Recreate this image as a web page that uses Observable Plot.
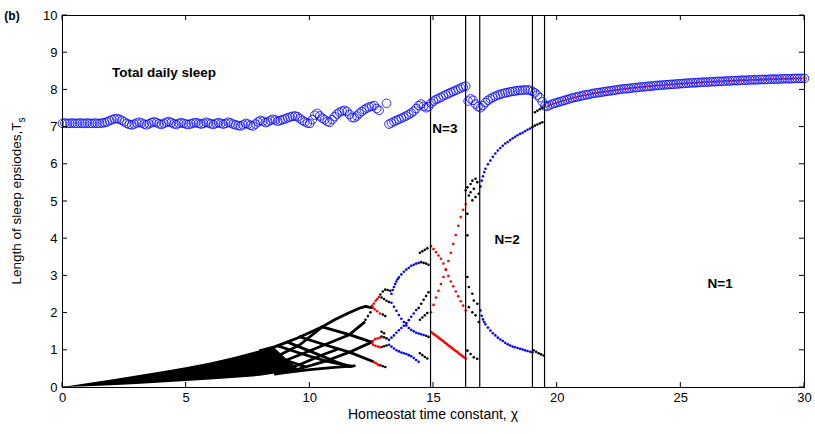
<!DOCTYPE html>
<html><head><meta charset="utf-8">
<script src="https://cdn.jsdelivr.net/npm/d3@7"></script>
<script src="https://cdn.jsdelivr.net/npm/@observablehq/plot@0.6"></script>
<style>body{margin:0;background:#fff}svg{font-family:"Liberation Sans",Arial,sans-serif}</style>
</head><body><div id="chart"></div>
<script>
// ---- axes ----
const xTicks = [0, 5, 10, 15, 20, 25, 30];
const yTicks = [0, 1, 2, 3, 4, 5, 6, 7, 8, 9, 10];
const regimeBounds = [14.88, 16.3, 16.87, 19.0, 19.49];

// ---- total daily sleep (blue circles), sampled every 0.1 in chi ----
const circleStep = 0.1;
const totalSleep1Start = 0;
const totalSleep1 = [
 7.10,7.11,7.10,7.10,7.11,7.10,7.10,7.11,7.10,7.10,
 7.11,7.10,7.10,7.11,7.10,7.10,7.11,7.12,7.14,7.17,
 7.20,7.22,7.23,7.21,7.18,7.14,7.10,7.07,7.06,7.08,
 7.11,7.13,7.11,7.08,7.06,7.09,7.12,7.14,7.12,7.09,
 7.07,7.10,7.13,7.15,7.12,7.09,7.07,7.10,7.12,7.10,
 7.08,7.07,7.09,7.11,7.12,7.10,7.08,7.10,7.13,7.11,
 7.09,7.07,7.10,7.12,7.10,7.08,7.10,7.13,7.11,7.08,
 7.06,7.04,7.03,7.06,7.10,7.08,7.05,7.03,7.08,7.14,
 7.18,7.16,7.12,7.14,7.18,7.21,7.19,7.16,7.18,7.20,
 7.22,7.25,7.27,7.29,7.30,7.28,7.23,7.18,7.14,7.11,
 7.10,7.20,7.32,7.37,7.30,7.24,7.20,7.15,7.13,7.20,
 7.28,7.35,7.40,7.43,7.45,7.42,7.34,7.26,7.25,7.30,
 7.37,7.42,7.47,7.51,7.54,7.56,7.58,7.50,7.45];
const totalSleep1bStart = 13.1;
const totalSleep1b = [7.64];
const totalSleep2Start = 13.2;
const totalSleep2 = [
 7.08,7.11,7.15,7.18,7.21,7.24,7.27,7.30,7.34,7.38,
 7.43,7.50,7.58,7.62,7.56,7.52,7.55,7.64,7.70,7.74,
 7.77,7.80,7.84,7.87,7.90,7.93,7.96,7.99,8.02,8.05,
 8.08,8.10];
const totalSleep3Start = 16.4;
const totalSleep3 = [
 7.70,7.76,7.72,7.62,7.55,7.52,7.58,7.66,7.72,7.76,
 7.80,7.83,7.86,7.88,7.90,7.92,7.93,7.95,7.96,7.97,
 7.98,7.99,7.99,8.00,8.00,7.99,7.96,7.92,7.86,7.79,
 7.68,7.57];
const totalSleep4Start = 19.6;
const totalSleep4 = [
 7.56,7.59,7.62,7.64,7.66,7.68,7.70,7.72,7.74,7.76,
 7.78,7.80,7.81,7.83,7.84,7.86,7.87,7.88,7.90,7.91,
 7.92,7.93,7.94,7.95,7.96,7.97,7.98,7.99,8.00,8.01,
 8.02,8.03,8.03,8.04,8.05,8.06,8.06,8.07,8.08,8.08,
 8.09,8.10,8.10,8.11,8.12,8.12,8.13,8.13,8.14,8.14,
 8.15,8.15,8.16,8.16,8.17,8.17,8.18,8.18,8.19,8.19,
 8.19,8.20,8.20,8.21,8.21,8.21,8.22,8.22,8.22,8.23,
 8.23,8.23,8.24,8.24,8.24,8.25,8.25,8.25,8.26,8.26,
 8.26,8.26,8.27,8.27,8.27,8.27,8.28,8.28,8.28,8.28,
 8.29,8.29,8.29,8.29,8.29,8.30,8.30,8.30,8.30,8.30,
 8.31,8.31,8.31,8.31,8.31];

// ---- many-episode fan (dense black region) ----
const fanX  = [0, 1, 2, 3, 4, 5, 6, 7, 8, 8.6, 9.0, 9.5];
const fanLo = [0, 0.02, 0.05, 0.08, 0.12, 0.16, 0.20, 0.25, 0.30, 0.36, 0.40, 0.45];
const fanHi = [0, 0.10, 0.20, 0.31, 0.42, 0.53, 0.66, 0.81, 0.99, 1.05, 0.80, 0.52];

// ---- interwoven branches (black) ----
const branchArc = [[8.0,0.99],[8.6,1.1],[9.0,1.2],[9.5,1.33],[10.0,1.48],[10.5,1.63],[11.0,1.82],[11.5,1.98],[12.0,2.13],[12.25,2.18],[12.5,2.15]];
const branchA = [[10.5,1.63],[11.6,1.42],[12.5,1.22]];
const branchB = [[9.6,1.36],[10.6,1.15],[11.6,0.95],[12.55,0.7]];
const branchC = [[8.7,1.12],[9.7,0.9],[10.7,0.7],[11.7,0.57]];
const branchD = [[8.0,0.99],[8.8,0.78],[9.8,0.56]];
const branchE = [[8.3,0.5],[8.6,0.62],[9.6,0.88],[10.6,1.15],[11.6,1.42],[12.2,1.75]];
const branchF = [[9.3,0.45],[10.6,0.7],[11.6,0.95],[12.5,1.22]];
const branchG = [[8.0,0.6],[9.0,0.95],[9.6,1.15],[10.5,1.63]];
const branchH = [[9.1,1.22],[10.1,0.95],[11.1,0.68],[11.6,0.56]];
const branchI = [[8.6,0.4],[9.6,0.62],[10.6,0.9],[11.1,1.02]];
const branchBottom = [[8.6,0.36],[9.0,0.4],[10.0,0.48],[11.0,0.54],[11.8,0.58]];
const branches = [branchArc, branchA, branchB, branchC, branchD, branchE, branchF, branchG, branchH, branchI, branchBottom];

// ---- episode lengths, black points ----
const blackPts = [
 [12.25,1.82],[12.35,1.92],[12.45,2.02],
 [12.85,2.5],[12.95,2.58],[13.05,2.63],[13.15,2.62],[13.25,2.6],
 [12.9,2.42],[13.0,2.38],[13.1,2.33],[13.2,2.3],
 [12.95,1.96],[13.05,1.92],
 [12.9,1.37],[13.0,1.35],[13.1,1.32],
 [12.9,1.09],[13.0,1.11],[13.1,1.13],
 [12.9,1.5],[13.0,1.46],
 [12.85,0.6],[12.95,0.57],[13.05,0.55],
 [14.45,3.62],[14.55,3.66],[14.65,3.7],[14.75,3.74],
 [14.5,3.37],[14.6,3.35],[14.7,3.33],[14.8,3.3],
 [14.4,2.14],[14.5,2.25],[14.6,2.36],[14.7,2.46],[14.8,2.56],
 [14.45,1.82],[14.55,1.88],[14.65,1.94],[14.75,2.0],
 [14.7,1.39],[14.8,1.36],
 [14.45,0.92],[14.55,0.87],[14.65,0.82],[14.75,0.78],
 [16.3,5.3],[16.37,5.38],[16.5,5.47],[16.57,5.56],[16.7,5.61],
 [16.43,5.16],[16.5,5.25],[16.63,5.34],[16.77,5.52],
 [16.57,5.03],[16.7,5.12],[16.83,5.21],
 [16.37,4.09],[16.37,4.67],
 [16.37,2.97],[16.43,2.7],[16.57,2.52],[16.63,2.34],[16.77,2.25],
 [16.43,2.16],[16.57,2.02],[16.7,1.94],[16.83,1.76],
 [16.37,0.99],[16.5,0.9],[16.63,0.81],[16.77,0.77],
 [19.05,1.0],[19.15,0.96],[19.25,0.92],[19.35,0.89],[19.45,0.86],
 [19.0,7.0],[19.1,7.04],[19.2,7.07],[19.3,7.1],[19.4,7.13],
 [19.1,7.4],[19.2,7.44],[19.3,7.48],[19.4,7.52]
];

// ---- episode lengths, red points ----
const redPts = [
 [12.79,2.43],[12.72,2.38],[12.66,2.33],[12.59,2.26],[12.52,2.2],[12.55,2.15],[12.62,2.1],[12.72,2.05],[12.83,1.99],
 [12.84,1.34],[12.74,1.32],[12.64,1.3],[12.55,1.25],[12.52,1.2],[12.56,1.15],[12.65,1.12],[12.75,1.1],[12.84,1.08],
 [12.6,0.68],[12.67,0.65],[12.74,0.62],[12.8,0.6],
 [14.9,3.8],[15.0,3.72],[15.1,3.64],[15.2,3.55],[15.3,3.46],[15.4,3.33],[15.5,3.16],[15.6,3.0],[15.7,2.85],[15.8,2.72],[15.9,2.58],[16.0,2.45],[16.1,2.32],[16.2,2.2],[16.3,2.07],
 [14.9,2.02],[15.0,2.22],[15.1,2.42],[15.2,2.6],[15.3,2.78],[15.4,2.97],[15.5,3.18],[15.6,3.4],[15.7,3.62],[15.8,3.86],[15.9,4.1],[16.0,4.35],[16.1,4.58],[16.2,4.78],[16.3,4.93],
 [14.9,1.49],[14.95,1.47],[15.0,1.44],[15.05,1.42],[15.1,1.39],[15.15,1.37],[15.2,1.34],[15.25,1.32],[15.3,1.29],[15.35,1.27],
 [15.4,1.24],[15.45,1.21],[15.5,1.19],[15.55,1.16],[15.6,1.13],[15.65,1.11],[15.7,1.08],[15.75,1.06],[15.8,1.03],[15.85,1.01],
 [15.9,0.98],[15.95,0.96],[16.0,0.93],[16.05,0.9],[16.1,0.88],[16.15,0.85],[16.2,0.83],[16.25,0.8],[16.3,0.78]
];

// ---- episode lengths, blue points ----
const bluePts = [
 [13.3,2.52],[13.35,2.62],[13.4,2.7],[13.45,2.78],[13.5,2.85],[13.55,2.91],[13.6,2.96],[13.7,3.04],[13.8,3.11],[13.9,3.17],[14.0,3.22],[14.1,3.27],[14.2,3.3],[14.3,3.33],[14.4,3.35],
 [13.3,2.28],[13.4,2.17],[13.5,2.06],[13.6,1.95],[13.7,1.85],[13.8,1.76],[13.9,1.67],[14.0,1.6],[14.1,1.55],[14.2,1.51],[14.3,1.47],[14.4,1.45],[14.5,1.43],[14.6,1.41],
 [13.2,1.28],[13.3,1.34],[13.4,1.4],[13.5,1.47],[13.6,1.54],[13.7,1.6],[13.8,1.66],[13.9,1.73],[14.0,1.81],[14.1,1.9],[14.2,1.99],[14.3,2.08],
 [13.2,1.15],[13.3,1.1],[13.4,1.05],[13.5,1.0],[13.6,0.97],[13.7,0.94],[13.8,0.92],[13.9,0.9],[14.0,0.87],[14.1,0.84],[14.2,0.79],[14.3,0.74],[14.4,0.69],
 [16.9,5.4],[16.95,5.56],[17.0,5.68],[17.05,5.79],[17.1,5.88],[17.2,6.0],[17.3,6.1],[17.4,6.2],[17.5,6.29],[17.6,6.37],[17.7,6.44],[17.8,6.5],
 [17.9,6.56],[18.0,6.6],[18.1,6.65],[18.2,6.7],[18.3,6.74],[18.4,6.78],[18.5,6.82],[18.6,6.85],[18.7,6.89],[18.8,6.93],[18.9,6.96],[19.0,7.0],
 [16.9,2.07],[16.95,1.93],[17.0,1.83],[17.05,1.76],[17.1,1.7],[17.2,1.61],[17.3,1.53],[17.4,1.46],[17.5,1.4],[17.6,1.34],[17.7,1.29],[17.8,1.25],
 [17.9,1.2],[18.0,1.16],[18.1,1.13],[18.2,1.1],[18.3,1.08],[18.4,1.06],[18.5,1.04],[18.6,1.02],[18.7,1.0],[18.8,0.98],[18.9,0.96],[19.0,0.95]
];

// ---- annotations ----
const notes = [
 {x: 2.0, y: 8.47, text: "Total daily sleep"},
 {x: 14.95, y: 6.95, text: "N=3"},
 {x: 17.47, y: 3.97, text: "N=2"},
 {x: 26.08, y: 2.8, text: "N=1"}
];

// ---- build tables ----
function seg(start, ys) { return ys.map((y, i) => ({x: +(start + i * circleStep).toFixed(2), y})); }
const circles = [
 ...seg(totalSleep1Start, totalSleep1), ...seg(totalSleep1bStart, totalSleep1b),
 ...seg(totalSleep2Start, totalSleep2), ...seg(totalSleep3Start, totalSleep3),
 ...seg(totalSleep4Start, totalSleep4)];
const singleEpisode = seg(totalSleep4Start, totalSleep4);
const fan = fanX.map((x, i) => ({x, lo: fanLo[i], hi: fanHi[i]}));

const W = 815, H = 434, mL = 62, mR = 11, mT = 15, mB = 47;
const plot = Plot.plot({
 width: W, height: H, marginLeft: mL, marginRight: mR, marginTop: mT, marginBottom: mB,
 x: {domain: [0, 30]}, y: {domain: [0, 10]},
 style: {fontFamily: '"Liberation Sans", Arial, sans-serif', fontSize: "13px", background: "#fff", color: "#000"},
 marks: [
  Plot.areaY(fan, {x: "x", y1: "lo", y2: "hi", fill: "#000"}),
  ...branches.map(b => Plot.line(b, {x: d => d[0], y: d => d[1], stroke: "#000", strokeWidth: 2.8})),
  Plot.dot(blackPts, {x: d => d[0], y: d => d[1], r: 1.3, fill: "#000"}),
  Plot.dot(redPts, {x: d => d[0], y: d => d[1], r: 1.3, fill: "#ff0000"}),
  Plot.dot(bluePts, {x: d => d[0], y: d => d[1], r: 1.3, fill: "#0000ff"}),
  Plot.ruleX(regimeBounds, {stroke: "#000", strokeWidth: 1.2}),
  Plot.dot(singleEpisode, {x: "x", y: "y", r: 0.9, fill: "#ff0000"}),
  Plot.dot(circles, {x: "x", y: "y", r: 4.3, stroke: "#0000ff", strokeWidth: 0.8, fill: "none"}),
  Plot.text(notes, {x: "x", y: "y", text: "text", textAnchor: "start", fontWeight: "bold", fontSize: 13.5, fill: "#000"}),
  Plot.frame({stroke: "#000"}),
  Plot.axisX(xTicks, {tickSize: 0, tickPadding: 5, label: null, fontSize: 13}),
  Plot.axisY(yTicks, {tickSize: 0, tickPadding: 5, label: null, fontSize: 13})
 ]
});

const sx = plot.scale("x"), sy = plot.scale("y");
const svg = d3.select(plot);
const y0 = sy.apply(0), y1 = sy.apply(10), x0 = sx.apply(0), x1 = sx.apply(30);
const tg = svg.append("g").attr("stroke", "#000").attr("stroke-width", 1);
xTicks.forEach(v => {
 const p = sx.apply(v);
 tg.append("line").attr("x1", p).attr("x2", p).attr("y1", y0).attr("y2", y0 - 5);
 tg.append("line").attr("x1", p).attr("x2", p).attr("y1", y1).attr("y2", y1 + 5);
});
yTicks.forEach(v => {
 const p = sy.apply(v);
 tg.append("line").attr("x1", x0).attr("x2", x0 + 5).attr("y1", p).attr("y2", p);
 tg.append("line").attr("x1", x1).attr("x2", x1 - 5).attr("y1", p).attr("y2", p);
});
svg.append("text").attr("x", (x0 + x1) / 2).attr("y", 419).attr("text-anchor", "middle")
 .attr("font-size", 14).attr("fill", "#000").text("Homeostat time constant, \u03c7");
const yl = svg.append("text").attr("transform", `translate(21,${(y0 + y1) / 2}) rotate(-90)`)
 .attr("text-anchor", "middle").attr("font-size", 13.5).attr("fill", "#000");
yl.append("tspan").text("Length of sleep epsiodes,T");
yl.append("tspan").attr("font-size", 10).attr("dy", 4).text("s");
svg.append("text").attr("x", 12).attr("y", 20).attr("font-size", 12).attr("font-weight", "bold")
 .attr("fill", "#000").text("(b)");

document.getElementById("chart").appendChild(plot);
</script></body></html>
